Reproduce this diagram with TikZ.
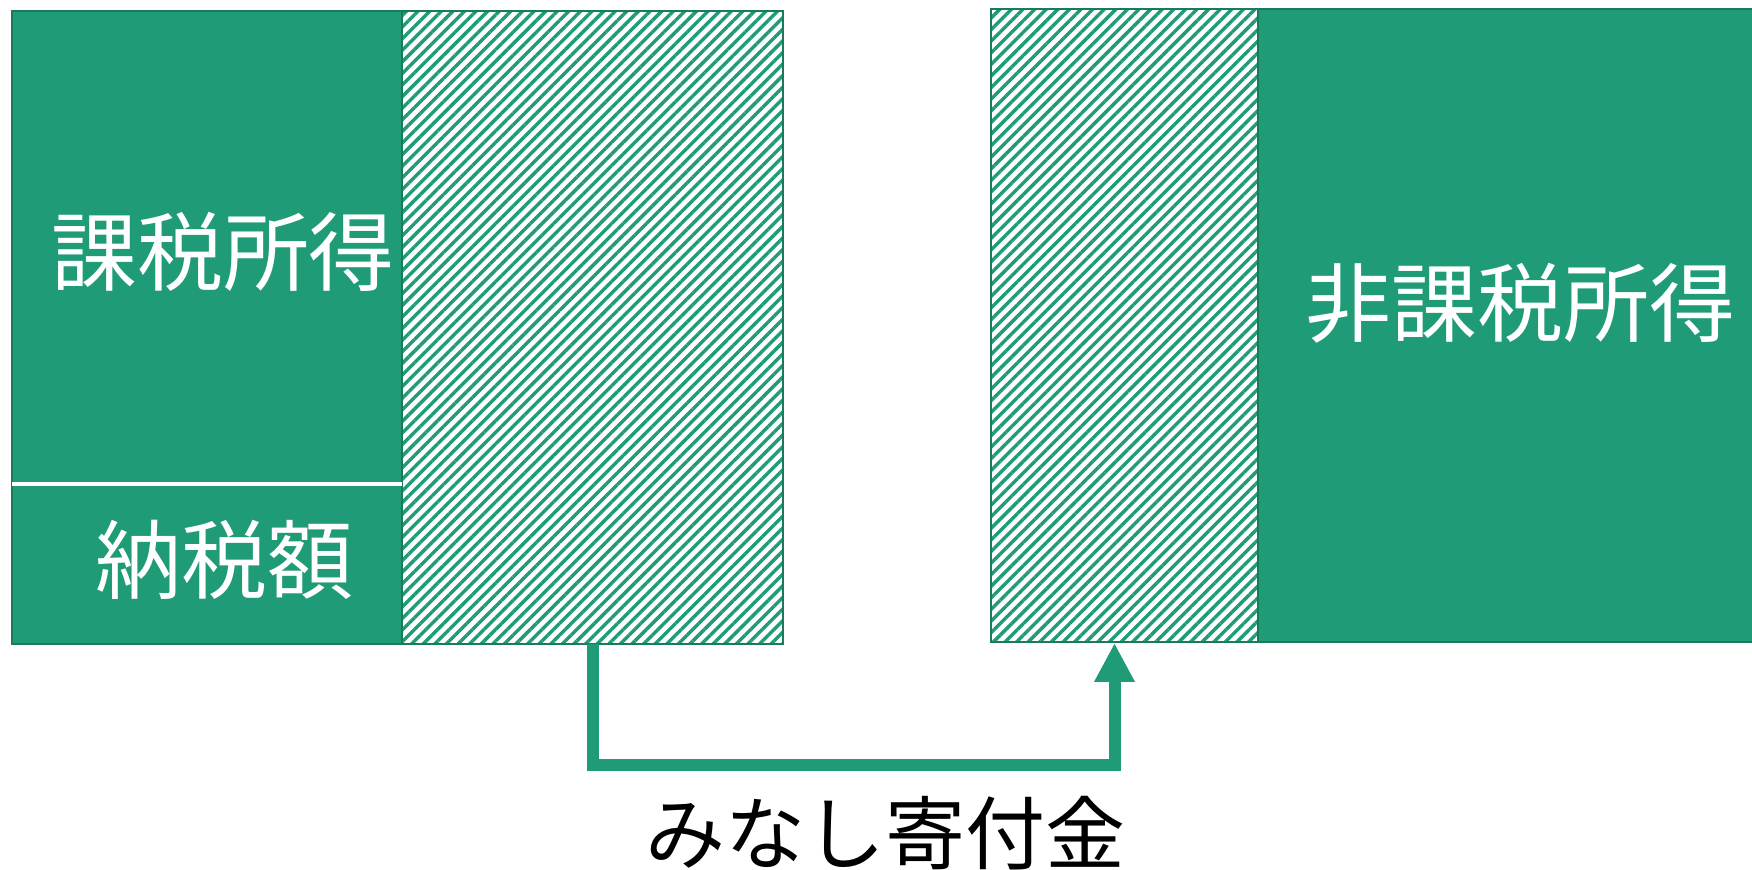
\documentclass[tikz,border=0pt]{standalone}
\usepackage{fontspec}
\newfontfamily\cjk{Noto Sans CJK JP}
\usetikzlibrary{patterns.meta,arrows.meta}
\definecolor{gr}{HTML}{1F9B78}
\definecolor{grd}{HTML}{1A7A5E}
\begin{document}
\begin{tikzpicture}[x=0.5pt,y=-0.5pt,
  solidbox/.style={draw=grd,line width=1pt,fill=gr,inner sep=0pt,outer sep=0pt,anchor=north west},
  hatchbox/.style={draw=grd,line width=1pt,fill=white,pattern={Lines[angle=45,distance=4.1pt,line width=1.7pt]},pattern color=gr,inner sep=0pt,outer sep=0pt,anchor=north west},
  wlabel/.style={text=white,font=\cjk\fontsize{43pt}{50pt}\selectfont,inner sep=0pt},
  blabel/.style={text=black,font=\cjk\fontsize{40pt}{48pt}\selectfont,inner sep=0pt},
  flow/.style={draw=gr,line width=6pt,line join=miter,-{Triangle[width=19pt,length=19.5pt]}}]
\useasboundingbox (0,0) rectangle (1752,870);
% left block
\node[solidbox,minimum width=195pt,minimum height=316.5pt] (tax) at (12,11) {};
\node[hatchbox,minimum width=190.5pt,minimum height=316.5pt] (lh) at (402,11) {};
\draw[white,line width=1.6pt] (12,484) -- (402,484);
% right block
\node[solidbox,minimum width=250pt,minimum height=316.5pt] (non) at (1258,9) {};
\node[hatchbox,minimum width=133.5pt,minimum height=316.5pt] (rh) at (991,9) {};
% labels
\node[wlabel] (l1) at (223,252) {課税所得};
\node[wlabel] (l2) at (224,560) {納税額};
\node[wlabel] (l3) at (1520,303) {非課税所得};
\node[blabel] (l4) at (885,833) {みなし寄付金};
% arrow
\coordinate (a0) at (593,644);
\coordinate (a1) at (1114.5,643);
\draw[flow] (a0) -- (593,765) -- (1114.5,765) -- (a1);
\end{tikzpicture}
\end{document}
